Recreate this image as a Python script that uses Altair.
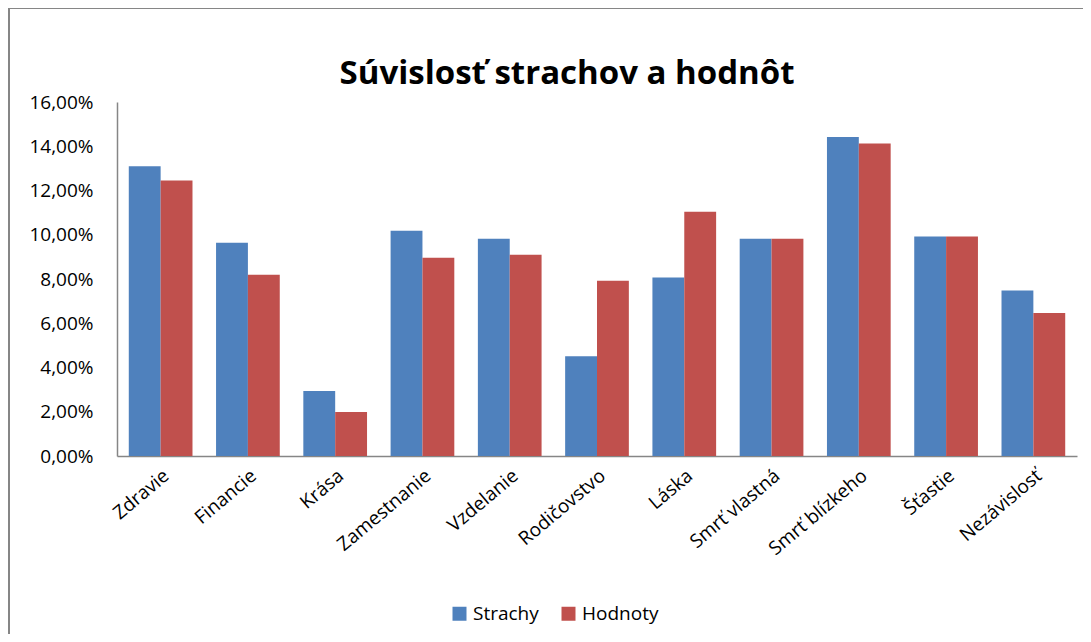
import altair as alt
import pandas as pd

title_text = "Súvislosť strachov a hodnôt"
categories = ["Zdravie", "Financie", "Krása", "Zamestnanie", "Vzdelanie", "Rodičovstvo",
              "Láska", "Smrť vlastná", "Smrť blízkeho", "Šťastie", "Nezávislosť"]
strachy = [0.1310, 0.0964, 0.0294, 0.1018, 0.0982, 0.0451, 0.0807, 0.0982, 0.1442, 0.0992, 0.0748]
hodnoty = [0.1245, 0.0819, 0.0199, 0.0896, 0.0910, 0.0792, 0.1104, 0.0982, 0.1412, 0.0992, 0.0646]
series = ["Strachy", "Hodnoty"]
colors = ["#4F81BD", "#C0504D"]

rows = []
for c, s, h in zip(categories, strachy, hodnoty):
    rows.append({"kat": c, "serie": "Strachy", "v": s})
    rows.append({"kat": c, "serie": "Hodnoty", "v": h})
df = pd.DataFrame(rows)

FONT = "Open Sans"

bars = alt.Chart(df).mark_bar().encode(
    x=alt.X("kat:N", sort=categories, title=None,
            scale=alt.Scale(paddingInner=0.27, paddingOuter=0.135),
            axis=alt.Axis(labelAngle=-40, ticks=False, labelPadding=10,
                          labelFontSize=19, labelColor="#000000", labelFont=FONT,
                          domainColor="#868686", domainWidth=1.5)),
    xOffset=alt.XOffset("serie:N", sort=series),
    y=alt.Y("v:Q", title=None,
            scale=alt.Scale(domain=[0, 0.16], nice=False),
            axis=alt.Axis(values=[0, 0.02, 0.04, 0.06, 0.08, 0.10, 0.12, 0.14, 0.16],
                          labelExpr="replace(format(datum.value, '.2%'), '.', ',')",
                          grid=False, ticks=False, labelPadding=24,
                          labelFontSize=19, labelColor="#000000", labelFont=FONT,
                          domainColor="#868686", domainWidth=1.5)),
    color=alt.Color("serie:N", sort=series,
                    scale=alt.Scale(domain=series, range=colors),
                    legend=alt.Legend(title=None, orient="none", direction="horizontal",
                                      legendX=333, legendY=502, symbolType="square",
                                      symbolSize=196, labelFontSize=19, labelFont=FONT,
                                      labelColor="#000000", columnPadding=20,
                                      labelOffset=4, symbolStrokeWidth=0)),
)

frame_top = alt.Chart(df).mark_rule(color="#868686", strokeWidth=2).encode(
    x=alt.value(-108), x2=alt.value(980), y=alt.value(-94))
frame_left = alt.Chart(df).mark_rule(color="#868686", strokeWidth=2).encode(
    x=alt.value(-108), y=alt.value(-94), y2=alt.value(545))

title = alt.Chart(pd.DataFrame({"t": [title_text]})).mark_text(
    font=FONT, fontSize=33, fontWeight="bold", color="#000000",
    align="center", baseline="alphabetic").encode(
    x=alt.value(450), y=alt.value(-18), text="t:N")

chart = alt.layer(frame_top, frame_left, bars, title).properties(
    width=960, height=354,
    autosize=alt.AutoSizeParams(type="none"),
    padding={"left": 109, "top": 94, "right": 6, "bottom": 178},
).configure_view(stroke=None)

chart.save("out.html", embed_options={"renderer": "svg", "actions": False})
